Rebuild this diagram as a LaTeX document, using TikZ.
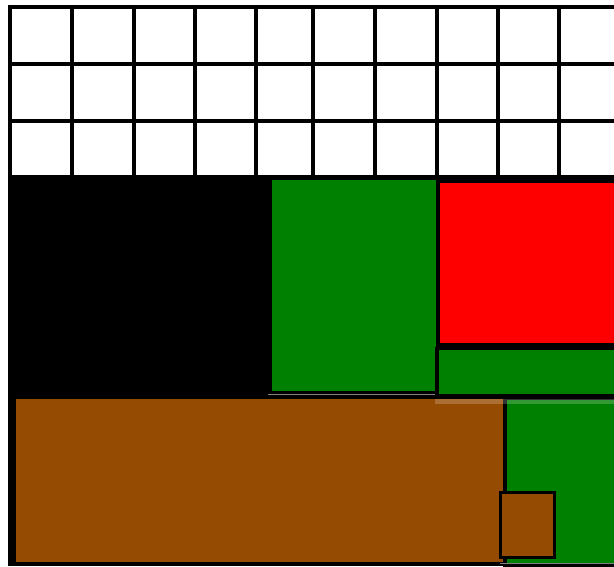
\documentclass[tikz,border=0pt]{standalone}
\usepackage{tikz}

\definecolor{leafgreen}{RGB}{0,128,0}
\definecolor{barkbrown}{RGB}{150,75,2}

\begin{document}
\begin{tikzpicture}[x=1pt,y=-1pt,line width=4pt]
\tikzset{panel/.style={draw=black,line width=3.5pt},
  smallpanel/.style={draw=black,line width=3pt}}
\useasboundingbox (0,0) rectangle (614,567);
\clip (0,0) rectangle (614,567);
% ground
\fill[black] (8,5) rectangle (620,566);
\fill[white] (10,7) rectangle (620,177);
\foreach \gx in {10,71.5,133.5,195,256,313,375,436.5,497.5,559}
  \draw (\gx,5)--(\gx,179);
\foreach \gy in {7,64,121,177}
  \draw (8,\gy)--(620,\gy);
% upper blocks
\filldraw[leafgreen,draw=black,line width=2.5pt] (270.5,178.5) rectangle (437,392);
\filldraw[red,panel] (438.5,181) rectangle (620,344.5);
\filldraw[leafgreen,panel] (437,348.5) rectangle (620,396);
\draw[gray,line width=1pt] (268,394.5)--(435,394.5);
% lower blocks
\fill[barkbrown] (16,399) rectangle (505,562);
\filldraw[leafgreen,panel] (505,398) rectangle (620,565);
\fill[white,opacity=.2] (435,398.5) rectangle (620,404);
\filldraw[barkbrown,smallpanel] (500.5,492.5) rectangle (554.5,557.5);
\draw[gray,line width=1pt] (500,563)--(614,563);
\end{tikzpicture}
\end{document}
